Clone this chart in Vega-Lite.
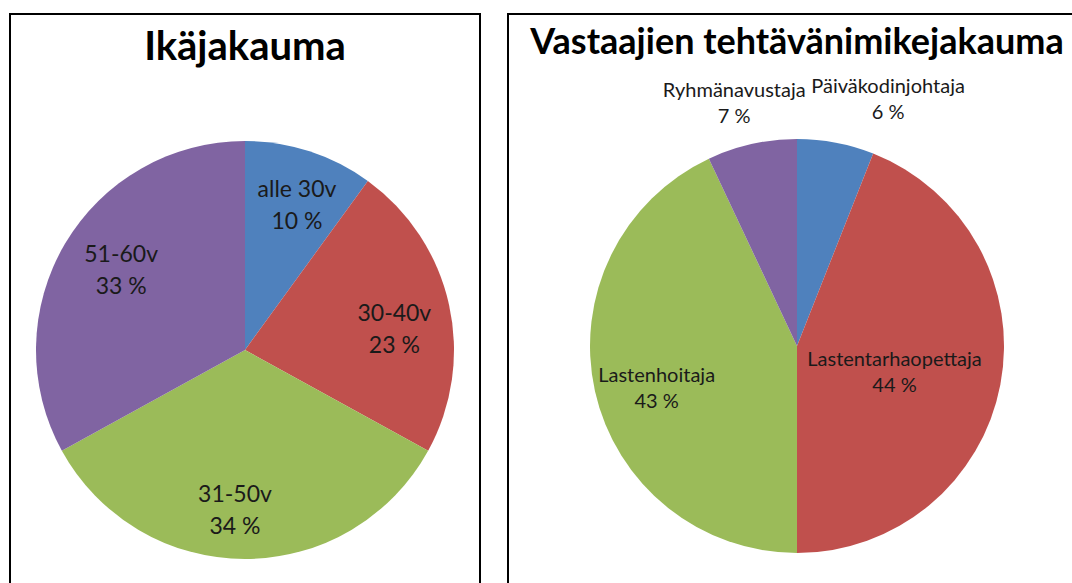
{
  "$schema": "https://vega.github.io/schema/vega-lite/v6.json",
  "padding": {"left": 9, "top": 13, "right": 0, "bottom": 0},
  "spacing": 26,
  "background": "white",
  "config": {
    "view": {"stroke": "#000000", "strokeWidth": 2},
    "font": "Lato",
    "text": {"font": "Lato", "color": "#1a1a1a"},
    "title": {"font": "Lato", "fontWeight": "bold", "color": "#000000", "anchor": "middle", "baseline": "alphabetic"}
  },
  "datasets": {
    "age": [
      {"i": 1, "cat": "alle 30v", "value": 10, "label": "alle 30v\n10 %"},
      {"i": 2, "cat": "30-40v", "value": 23, "label": "30-40v\n23 %"},
      {"i": 3, "cat": "31-50v", "value": 34, "label": "31-50v\n34 %"},
      {"i": 4, "cat": "51-60v", "value": 33, "label": "51-60v\n33 %"}
    ],
    "job": [
      {"i": 1, "cat": "Päiväkodinjohtaja", "value": 6, "label": "Päiväkodinjohtaja\n6 %"},
      {"i": 2, "cat": "Lastentarhaopettaja", "value": 44, "label": "Lastentarhaopettaja\n44 %"},
      {"i": 3, "cat": "Lastenhoitaja", "value": 43, "label": "Lastenhoitaja\n43 %"},
      {"i": 4, "cat": "Ryhmänavustaja", "value": 7, "label": "Ryhmänavustaja\n7 %"}
    ]
  },
  "resolve": {"scale": {"color": "independent", "theta": "independent"}},
  "hconcat": [
    {
      "title": {"text": "Ikäjakauma", "fontSize": 40, "offset": -54},
      "width": 470,
      "height": 672,
      "view": {"stroke": "#000000", "strokeWidth": 2, "fill": "white"},
      "data": {"name": "age"},
      "encoding": {
        "theta": {"field": "value", "type": "quantitative", "stack": true},
        "order": {"field": "i", "type": "quantitative"}
      },
      "layer": [
        {
          "mark": {"type": "arc", "radius": 209},
          "encoding": {
            "color": {"field": "cat", "type": "nominal", "legend": null,
              "scale": {"domain": ["alle 30v", "30-40v", "31-50v", "51-60v"], "range": ["#4F81BD", "#C0504D", "#9BBB59", "#8064A2"]}}
          }
        },
        {
          "mark": {"type": "text", "radius": 152, "lineBreak": "\n", "fontSize": 23, "lineHeight": 32, "baseline": "middle", "dx": 5, "dy": -15},
          "encoding": {
            "text": {"condition": {"test": "datum.cat === 'alle 30v'", "field": "label"}, "value": ""}
          }
        },
        {
          "mark": {"type": "text", "radius": 152, "lineBreak": "\n", "fontSize": 23, "lineHeight": 32, "baseline": "middle", "dx": 7, "dy": -18},
          "encoding": {
            "text": {"condition": {"test": "datum.cat === '51-60v'", "field": "label"}, "value": ""}
          }
        },
        {
          "mark": {"type": "text", "radius": 152, "lineBreak": "\n", "fontSize": 23, "lineHeight": 32, "baseline": "middle", "dx": 1, "dy": -3},
          "encoding": {
            "text": {"condition": {"test": "datum.cat === '30-40v'", "field": "label"}, "value": ""}
          }
        },
        {
          "mark": {"type": "text", "radius": 152, "lineBreak": "\n", "fontSize": 23, "lineHeight": 32, "baseline": "middle", "dx": -10, "dy": -7},
          "encoding": {
            "text": {"condition": {"test": "datum.cat === '31-50v'", "field": "label"}, "value": ""}
          }
        }
      ]
    },
    {
      "title": {"text": "Vastaajien tehtävänimikejakauma", "fontSize": 36, "offset": -48},
      "width": 578,
      "height": 664,
      "view": {"stroke": "#000000", "strokeWidth": 2, "fill": "white"},
      "data": {"name": "job"},
      "encoding": {
        "theta": {"field": "value", "type": "quantitative", "stack": true},
        "order": {"field": "i", "type": "quantitative"}
      },
      "layer": [
        {
          "mark": {"type": "arc", "radius": 207},
          "encoding": {
            "color": {"field": "cat", "type": "nominal", "legend": null,
              "scale": {"domain": ["Päiväkodinjohtaja", "Lastentarhaopettaja", "Lastenhoitaja", "Ryhmänavustaja"], "range": ["#4F81BD", "#C0504D", "#9BBB59", "#8064A2"]}}
          }
        },
        {
          "mark": {"type": "text", "radius": 152, "lineBreak": "\n", "fontSize": 20, "lineHeight": 26, "baseline": "middle", "dx": 8, "dy": -3},
          "encoding": {
            "text": {"condition": {"test": "datum.cat === 'Lastenhoitaja'", "field": "label"}, "value": ""}
          }
        },
        {
          "mark": {"type": "text", "radius": 85, "lineBreak": "\n", "fontSize": 20, "lineHeight": 26, "baseline": "middle", "dx": 14, "dy": -2},
          "encoding": {
            "text": {"condition": {"test": "datum.cat === 'Lastentarhaopettaja'", "field": "label"}, "value": ""}
          }
        },
        {
          "mark": {"type": "text", "radius": 262, "lineBreak": "\n", "fontSize": 20, "lineHeight": 26, "baseline": "middle", "dx": 42, "dy": -2},
          "encoding": {
            "text": {"condition": {"test": "datum.cat === 'Päiväkodinjohtaja'", "field": "label"}, "value": ""}
          }
        },
        {
          "mark": {"type": "text", "radius": 251, "lineBreak": "\n", "fontSize": 20, "lineHeight": 26, "baseline": "middle", "dx": -8, "dy": -10},
          "encoding": {
            "text": {"condition": {"test": "datum.cat === 'Ryhmänavustaja'", "field": "label"}, "value": ""}
          }
        }
      ]
    }
  ]
}
